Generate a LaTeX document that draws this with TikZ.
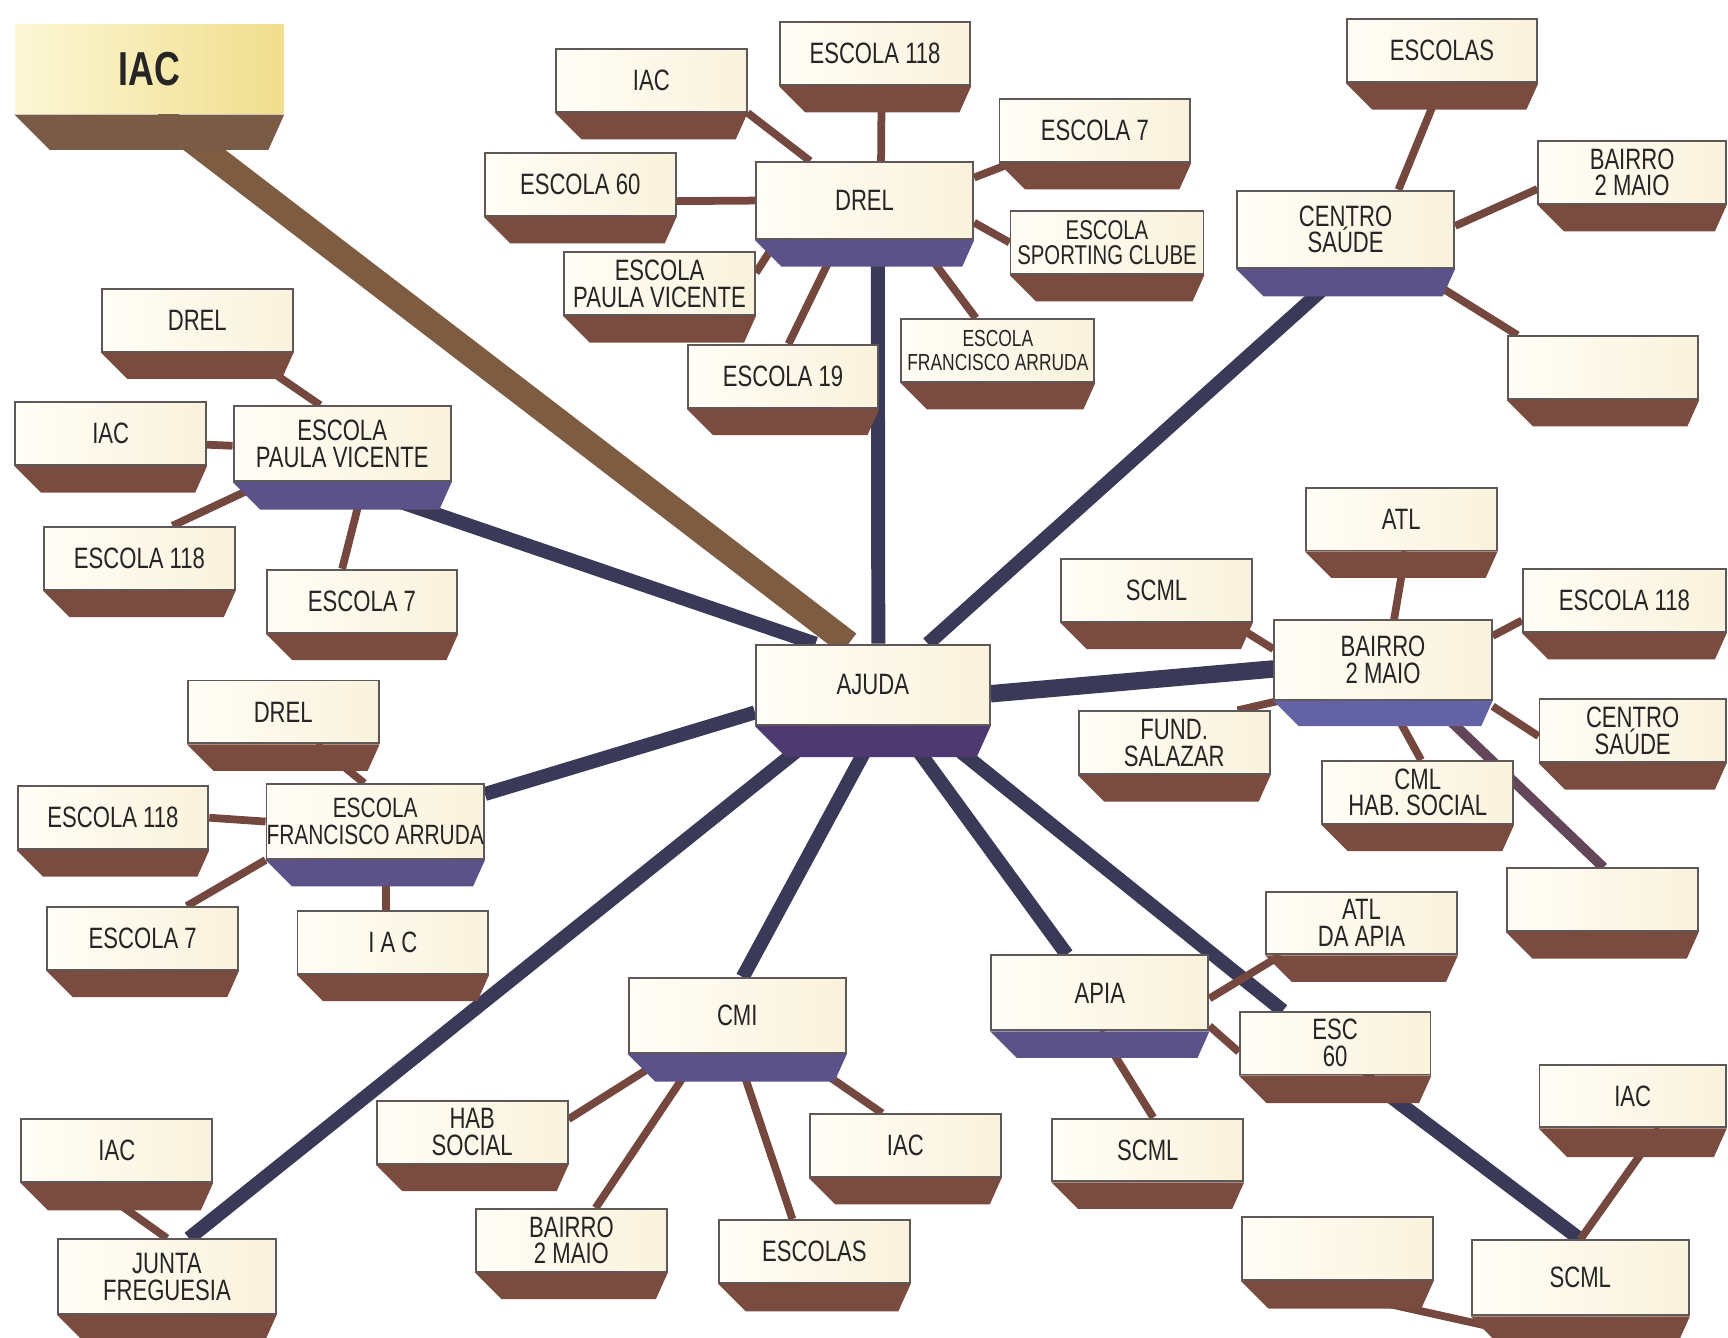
\documentclass[tikz,border=0pt]{standalone}
\usepackage{fontspec}
\newfontfamily\boxfont{Liberation Sans}[FakeStretch=0.75]
\usetikzlibrary{calc,backgrounds}
\definecolor{cream}{RGB}{249,242,220}
\definecolor{creamlight}{RGB}{255,253,246}
\definecolor{boxline}{RGB}{95,88,88}
\definecolor{textgrey}{RGB}{38,36,36}
\definecolor{plinthbrown}{RGB}{122,76,64}
\definecolor{plinthhub}{RGB}{92,82,138}
\definecolor{plinthblue}{RGB}{98,98,165}
\definecolor{plinthdark}{RGB}{78,58,112}
\definecolor{plinthiac}{RGB}{122,92,70}
\definecolor{iaclight}{RGB}{252,247,214}
\definecolor{iacyellow}{RGB}{240,222,140}
\definecolor{linkbrown}{RGB}{116,72,62}
\definecolor{linknavy}{RGB}{58,58,88}
\definecolor{linkmix}{RGB}{100,70,90}
\definecolor{iacbrown}{RGB}{125,92,66}
% base under a box: #2 node, #3 depth
\newcommand{\boxbase}[3][plinthbrown]{%
  \fill[#1] (#2.south west) -- (#2.south east)
    -- ($(#2.south east)+(-0.45*#3,#3)$) -- ($(#2.south west)+(#3,#3)$) -- cycle;}

\begin{document}
\begin{tikzpicture}[x=0.01cm, y=-0.01cm,
    entity/.style={draw=boxline, line width=0.5pt, left color=creamlight,
      right color=cream, text=textgrey, align=center, inner sep=0pt,
      font=\boxfont\fontsize{7.6}{6.9}\selectfont},
    leaf/.style={entity, minimum width=1.73cm, minimum height=0.57cm},
    hub/.style={entity, minimum width=1.97cm, minimum height=0.68cm},
    leaflink/.style={draw=linkbrown, line width=2pt},
    trunklink/.style={draw=linknavy, line width=3.6pt}]
  \useasboundingbox (0,0) rectangle (1568,1214);

  % Top left
  \node[entity, draw=none, minimum width=2.43cm, minimum height=0.81cm,
    left color=iaclight, right color=iacyellow,
    font=\boxfont\bfseries\fontsize{12.3}{12}\selectfont] (iac) at (135.5,62.5) {IAC};

  % DREL
  \node[leaf] (drelIac) at (591,73) {IAC};
  \node[leaf] (drelE118) at (794,48.5) {ESCOLA 118};
  \node[leaf] (drelE7) at (993.5,118.5) {ESCOLA 7};
  \node[leaf] (drelE60) at (526.5,167.5) {ESCOLA 60};
  \node[hub, minimum height=0.70cm] (drel) at (784.5,182) {DREL};
  \node[leaf, minimum width=1.75cm, font=\boxfont\fontsize{7}{6.6}\selectfont]
    (drelSport) at (1004.5,220) {ESCOLA\\SPORTING CLUBE};
  \node[leaf] (drelPaula) at (598.5,257.5) {ESCOLA\\PAULA VICENTE};
  \node[leaf] (drelE19) at (710.5,341.5) {ESCOLA 19};
  \node[leaf, minimum width=1.75cm, font=\boxfont\fontsize{6}{6.2}\selectfont]
    (drelFranc) at (905.5,318) {ESCOLA\\FRANCISCO ARRUDA};

  % Centro Saude
  \node[leaf] (csEscolas) at (1308.5,46) {ESCOLAS};
  \node[leaf, minimum width=1.70cm] (csBairro) at (1481,156.5) {BAIRRO\\2 MAIO};
  \node[hub, minimum height=0.70cm] (cs) at (1221,208) {CENTRO\\SAÚDE};
  \node[leaf] (csBlank) at (1454.5,333.5) {};

  % Paula Vicente
  \node[leaf] (pvDrel) at (179,290.5) {DREL};
  \node[leaf] (pvIac) at (100.5,393.5) {IAC};
  \node[hub] (pv) at (310.5,402.5) {ESCOLA\\PAULA VICENTE};
  \node[leaf] (pvE118) at (126.5,506.5) {ESCOLA 118};
  \node[leaf] (pvE7) at (328.5,545.5) {ESCOLA 7};

  % Francisco Arruda
  \node[leaf] (faDrel) at (257,646) {DREL};
  \node[leaf] (faE118) at (102.5,742) {ESCOLA 118};
  \node[hub, font=\boxfont\fontsize{7.2}{6.9}\selectfont]
    (fa) at (340.5,745.5) {ESCOLA\\FRANCISCO ARRUDA};
  \node[leaf] (faE7) at (129.5,851.5) {ESCOLA 7};
  \node[leaf] (faIac) at (356.5,855) {I A C};

  % Ajuda
  \node[hub, minimum width=2.12cm, minimum height=0.73cm] (ajuda) at (792,621.5) {AJUDA};

  % Bairro 2 Maio
  \node[leaf] (bmAtl) at (1271.5,471) {ATL};
  \node[leaf] (bmScml) at (1049.5,535.5) {SCML};
  \node[leaf, minimum width=1.84cm] (bmE118) at (1474,545) {ESCOLA 118};
  \node[hub, minimum height=0.72cm] (bm) at (1255,599) {BAIRRO\\2 MAIO};
  \node[leaf] (bmFund) at (1065.5,674) {FUND.\\SALAZAR};
  \node[leaf, minimum width=1.69cm] (bmCs) at (1481.5,663) {CENTRO\\SAÚDE};
  \node[leaf] (bmCml) at (1286.5,719) {CML\\HAB. SOCIAL};
  \node[leaf] (bmBlank) at (1454,816.5) {};

  % Apia
  \node[leaf] (apAtl) at (1235.5,837.5) {ATL\\DA APIA};
  \node[hub] (apia) at (998,901) {APIA};
  \node[leaf] (esc60) at (1211.5,946.5) {ESC\\60};
  \node[leaf] (apScml) at (1041.5,1043.5) {SCML};

  % SCML
  \node[hub] (scml) at (1434,1159.5) {SCML};
  \node[leaf, minimum width=1.69cm] (scIac) at (1481.5,994.5) {IAC};
  \node[leaf] (scBlank) at (1213.5,1133) {};

  % CMI
  \node[hub] (cmi) at (669,921.5) {CMI};
  \node[leaf] (cmHab) at (428.5,1027.5) {HAB\\SOCIAL};
  \node[leaf] (cmIac) at (821.5,1039.5) {IAC};
  \node[leaf] (cmBairro) at (518.5,1125.5) {BAIRRO\\2 MAIO};
  \node[leaf] (cmEscolas) at (739,1135.5) {ESCOLAS};

  % Junta
  \node[leaf] (jfIac) at (106,1044) {IAC};
  \node[hub] (jf) at (151.5,1158.5) {JUNTA\\FREGUESIA};

  % Bases
  \boxbase[plinthiac]{iac}{32}
  \boxbase{drelIac}{24} \boxbase{drelE118}{24} \boxbase{drelE7}{24}
  \boxbase{drelE60}{24} \boxbase{drelSport}{24} \boxbase{drelPaula}{24}
  \boxbase{drelE19}{24} \boxbase{drelFranc}{24} \boxbase[plinthhub]{drel}{24}
  \boxbase{csEscolas}{24} \boxbase{csBairro}{24} \boxbase{csBlank}{24}
  \boxbase[plinthhub]{cs}{25}
  \boxbase{pvDrel}{24} \boxbase{pvIac}{24} \boxbase{pvE118}{24}
  \boxbase{pvE7}{24} \boxbase[plinthhub]{pv}{25}
  \boxbase{faDrel}{24} \boxbase{faE118}{24} \boxbase{faE7}{24}
  \boxbase{faIac}{24} \boxbase[plinthhub]{fa}{24}
  \boxbase[plinthdark]{ajuda}{28}
  \boxbase{bmAtl}{24} \boxbase{bmScml}{24} \boxbase{bmE118}{24}
  \boxbase{bmFund}{24} \boxbase{bmCs}{24} \boxbase{bmCml}{24}
  \boxbase{bmBlank}{24} \boxbase[plinthblue]{bm}{23}
  \boxbase{apAtl}{24} \boxbase{esc60}{25} \boxbase{apScml}{24}
  \boxbase[plinthhub]{apia}{24}
  \boxbase{scml}{22} \boxbase{scIac}{26} \boxbase{scBlank}{25}
  \boxbase{cmHab}{24} \boxbase{cmIac}{24} \boxbase{cmBairro}{24}
  \boxbase{cmEscolas}{25} \boxbase[plinthhub]{cmi}{25}
  \boxbase{jfIac}{25} \boxbase{jf}{24}

  \begin{scope}[on background layer]
    \fill[white] (0,0) rectangle (1568,1214);
    % Trunks from AJUDA
    \draw[trunklink] ($(ajuda.north)+(5,0)$) -- ($(drel.south)+(12,0)$);
    \draw[trunklink] ($(ajuda.north)+(50,0)$) -- (cs.south);
    \draw[trunklink] ($(ajuda.north west)+(55,0)$) -- (pv.south);
    \draw[draw=iacbrown, line width=6.6pt] ($(ajuda.north)+(-22,0)$) -- ($(iac.south)+(8,0)$);
    \draw[trunklink, line width=4.5pt] ($(ajuda.east)+(0,8)$) -- ($(bm.west)+(0,8)$);
    \draw[trunklink] ($(ajuda.west)+(0,25)$) -- ($(fa.east)+(0,-25)$);
    \draw[trunklink] ($(ajuda.south)+(-41,0)$) -- ($(jf.north)+(20,0)$);
    \draw[trunklink] ($(ajuda.south)+(5,0)$) -- ($(cmi.north)+(5,0)$);
    \draw[trunklink] ($(ajuda.south)+(25,0)$) -- ($(apia.north)+(-30,0)$);
    \draw[trunklink] ($(ajuda.south)+(51,0)$) -- ($(esc60.north west)+(40,0)$);
    \draw[trunklink] ($(esc60.south)+(25,0)$) -- (scml.north);

    % DREL
    \draw[leaflink] (drelIac.south east) -- ($(drel.north west)+(50,0)$);
    \draw[leaflink] ($(drelE118.south)+(6,0)$) -- ($(drel.north)+(15,0)$);
    \draw[leaflink] ($(drelE7.south west)+(12,0)$) -- ($(drel.north east)+(0,15)$);
    \draw[leaflink] ($(drelE60.east)+(0,15)$) -- (drel.west);
    \draw[leaflink] (drelSport.west) -- ($(drel.east)+(0,20)$);
    \draw[leaflink] ($(drelPaula.east)+(0,-10)$) -- ($(drel.south west)+(20,0)$);
    \draw[leaflink] ($(drelE19.north)+(5,0)$) -- ($(drel.south)+(-23,0)$);
    \draw[leaflink] ($(drelFranc.north)+(-20,0)$) -- ($(drel.south)+(48,0)$);

    % Centro Saude
    \draw[leaflink] (csEscolas.south) -- ($(cs.north)+(48,0)$);
    \draw[leaflink] ($(csBairro.west)+(0,15)$) -- ($(cs.east)+(0,-3)$);
    \draw[leaflink] ($(csBlank.north west)+(10,0)$) -- ($(cs.south east)+(-40,0)$);

    % Paula Vicente
    \draw[leaflink] ($(pvDrel.south)+(42,0)$) -- ($(pv.north)+(-20,0)$);
    \draw[leaflink] ($(pvIac.east)+(0,10)$) -- ($(pv.west)+(0,2)$);
    \draw[leaflink] ($(pvE118.north)+(30,0)$) -- ($(pv.south west)+(30,0)$);
    \draw[leaflink] ($(pvE7.north)+(-18,0)$) -- ($(pv.south)+(20,0)$);

    % Francisco Arruda
    \draw[leaflink] ($(faDrel.south)+(30,0)$) -- ($(fa.north)+(-10,0)$);
    \draw[leaflink] (faE118.east) -- (fa.west);
    \draw[leaflink] ($(faE7.north)+(40,0)$) -- (fa.south west);
    \draw[leaflink] ($(faIac.north)+(-6,0)$) -- ($(fa.south)+(10,0)$);

    % Bairro 2 Maio
    \draw[leaflink] ($(bmAtl.south)+(4,0)$) -- ($(bm.north)+(10,0)$);
    \draw[leaflink] ($(bmScml.south east)+(-20,0)$) -- ($(bm.west)+(0,-10)$);
    \draw[leaflink] ($(bmE118.west)+(0,18)$) -- ($(bm.east)+(0,-22)$);
    \draw[leaflink] ($(bmFund.north east)+(-30,0)$) -- ($(bm.south west)+(5,0)$);
    \draw[leaflink] ($(bmCs.west)+(0,5)$) -- ($(bm.south east)+(0,5)$);
    \draw[leaflink] ($(bmCml.north)+(3,0)$) -- ($(bm.south)+(5,0)$);
    \draw[leaflink, draw=linkmix, line width=2.6pt] ($(bmBlank.north)+(1,0)$) -- ($(bm.south)+(42,0)$);

    % Apia
    \draw[leaflink] ($(apAtl.south west)+(14,0)$) -- ($(apia.east)+(0,5)$);
    \draw[leaflink] ($(esc60.west)+(0,8)$) -- ($(apia.east)+(0,30)$);
    \draw[leaflink] ($(apScml.north)+(5,0)$) -- (apia.south);

    % SCML
    \draw[leaflink] ($(scIac.south)+(24,0)$) -- (scml.north);
    \draw[leaflink] ($(scBlank.south)+(-47,0)$) -- ($(scml.south west)+(30,12)$);

    % CMI
    \draw[leaflink] ($(cmHab.east)+(0,-12)$) -- ($(cmi.south west)+(40,0)$);
    \draw[leaflink] ($(cmBairro.north)+(22,0)$) -- ($(cmi.south)+(-35,0)$);
    \draw[leaflink] ($(cmEscolas.north)+(-20,0)$) -- (cmi.south);
    \draw[leaflink] ($(cmIac.north)+(-21,0)$) -- ($(cmi.south east)+(-46,0)$);

    % Junta
    \draw[leaflink] ($(jfIac.south)+(-25,0)$) -- (jf.north);
  \end{scope}
\end{tikzpicture}
\end{document}
